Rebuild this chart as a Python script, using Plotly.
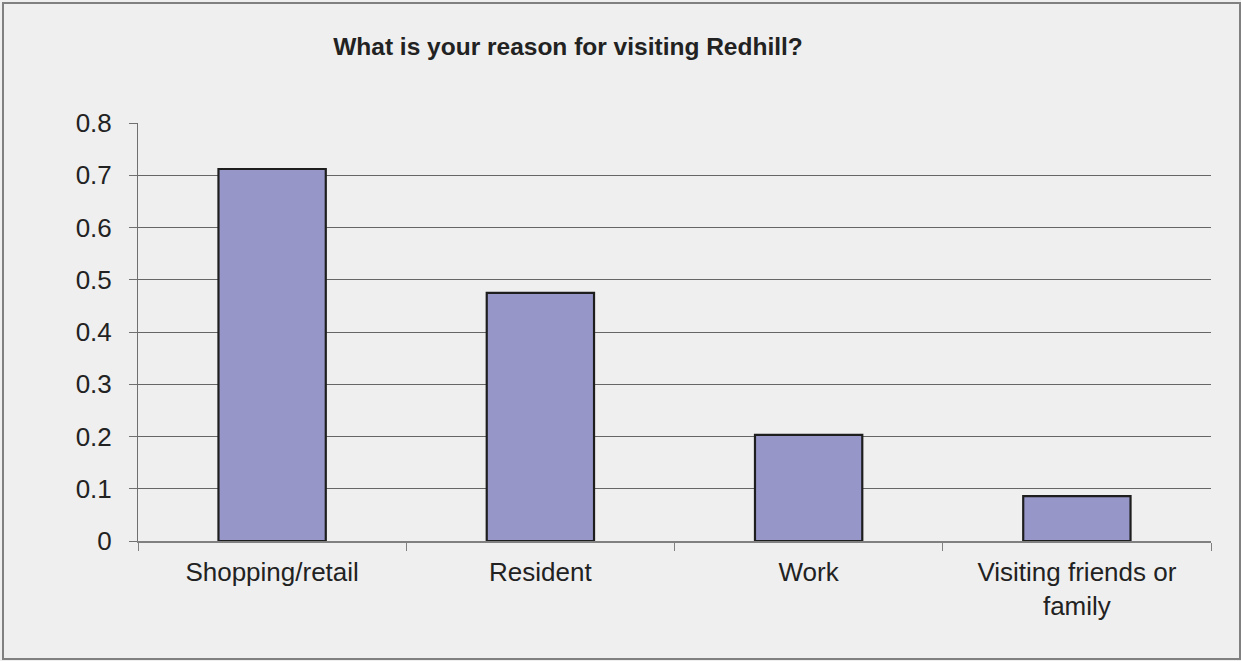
import plotly.graph_objects as go

categories = ["Shopping/retail", "Resident", "Work", "Visiting friends or<br>family"]
values = [0.712, 0.475, 0.203, 0.086]
y_ticks = [0, 0.1, 0.2, 0.3, 0.4, 0.5, 0.6, 0.7, 0.8]
y_labels = ["0", "0.1", "0.2", "0.3", "0.4", "0.5", "0.6", "0.7", "0.8"]
title_text = "What is your reason for visiting Redhill?"

W, H = 1241, 661
L, R, T, B = 138, 30, 123, 120
pw, ph = W - L - R, H - T - B

fig = go.Figure(go.Bar(
    x=categories, y=values, width=0.4,
    marker=dict(color="#9696c9", line=dict(color="#1e1e1e", width=2.2)),
))

def px_x(v):
    return (v - L) / pw

def px_y(v):
    return (H - B - v) / ph

fig.add_shape(type="rect", xref="paper", yref="paper",
              x0=px_x(3), x1=px_x(1240), y0=px_y(659), y1=px_y(3),
              line=dict(color="#808080", width=2), fillcolor="rgba(0,0,0,0)", layer="below")

fig.update_layout(
    width=W, height=H,
    margin=dict(l=L, r=R, t=T, b=B),
    paper_bgcolor="#efefef", plot_bgcolor="#efefef",
    showlegend=False,
    font=dict(family="Liberation Sans, Arial, sans-serif", color="#222222", size=26),
    title=dict(text="<b>" + title_text + "</b>", x=568 / W, xanchor="center",
               y=1 - 46 / H, yanchor="middle",
               font=dict(family="Liberation Sans, Arial, sans-serif", size=24.5, color="#222222")),
)
fig.update_xaxes(
    showline=True, linecolor="#808080", linewidth=2,
    ticks="outside", tickson="boundaries", ticklen=8, tickcolor="#808080", tickwidth=1,
    showgrid=False, tickfont=dict(size=26), ticklabelstandoff=7,
)
fig.update_yaxes(
    range=[0, 0.8], tickvals=y_ticks, ticktext=y_labels,
    showline=True, linecolor="#707070", linewidth=1,
    ticks="outside", ticklen=8, tickcolor="#707070",
    showgrid=True, gridcolor="#666666", gridwidth=1,
    zeroline=False, tickfont=dict(size=26), ticklabelstandoff=12,
)
fig.write_html("out.html", config={"displayModeBar": False},
               post_script="document.body.style.margin='0';")
